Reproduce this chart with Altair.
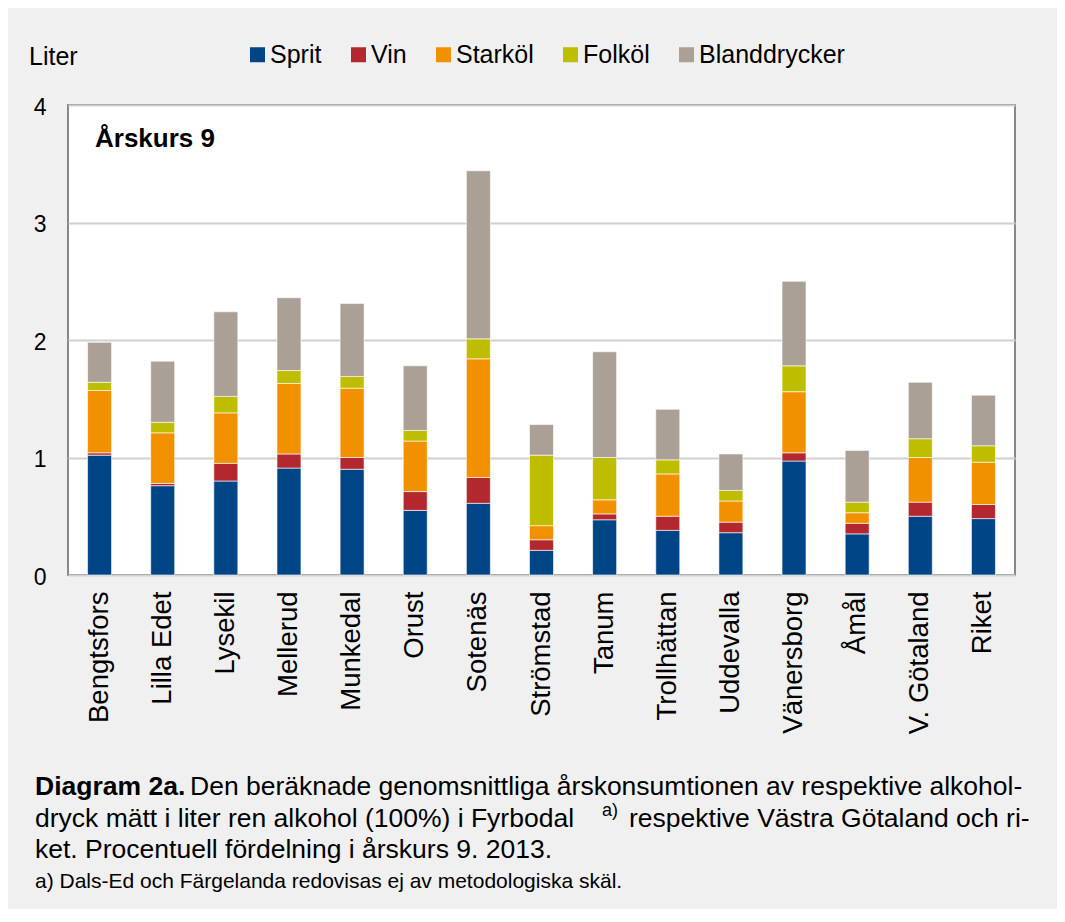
import altair as alt
import pandas as pd

kommuner = ["Bengtsfors", "Lilla Edet", "Lysekil", "Mellerud", "Munkedal", "Orust",
            "Sotenäs", "Strömstad", "Tanum", "Trollhättan", "Uddevalla", "Vänersborg",
            "Åmål", "V. Götaland", "Riket"]
dryck = ["Sprit", "Vin", "Starköl", "Folköl", "Blanddrycker"]
sprit = [1.02, 0.76, 0.80, 0.91, 0.90, 0.55, 0.61, 0.21, 0.47, 0.38, 0.36, 0.97, 0.35, 0.50, 0.48]
vin = [0.02, 0.02, 0.15, 0.12, 0.10, 0.16, 0.22, 0.09, 0.05, 0.12, 0.09, 0.07, 0.09, 0.12, 0.12]
starkol = [0.53, 0.43, 0.43, 0.60, 0.59, 0.43, 1.01, 0.12, 0.12, 0.36, 0.18, 0.52, 0.09, 0.38, 0.36]
folkol = [0.07, 0.09, 0.14, 0.11, 0.10, 0.09, 0.17, 0.60, 0.36, 0.12, 0.09, 0.22, 0.09, 0.16, 0.14]
bland = [0.34, 0.52, 0.72, 0.62, 0.62, 0.55, 1.43, 0.26, 0.90, 0.43, 0.31, 0.72, 0.44, 0.48, 0.43]
farger = ["#004586", "#b3282f", "#f29100", "#bfbd00", "#aaa095"]
y_ticks = [0, 1, 2, 3, 4]

serier = [sprit, vin, starkol, folkol, bland]
rows = []
for i, d in enumerate(dryck):
    for k, v in zip(kommuner, serier[i]):
        rows.append({"kommun": k, "dryck": d, "liter": v, "ordning": i})
df = pd.DataFrame(rows)

FONT = "Liberation Sans"

bars = alt.Chart(df).mark_bar(stroke="white", strokeWidth=0.6).encode(
    x=alt.X("kommun:N", sort=kommuner,
            scale=alt.Scale(paddingInner=0.62, paddingOuter=0.31),
            axis=alt.Axis(title=None, labelAngle=-90, labelAlign="right", labelBaseline="middle",
                          labelPadding=16, ticks=False, domain=False, labelFontSize=27.5,
                          labelColor="black", labelFont=FONT)),
    y=alt.Y("liter:Q", stack="zero",
            scale=alt.Scale(domain=[0, 4], nice=False),
            axis=alt.Axis(title=None, values=y_ticks, grid=True, gridColor="#d0d0d0", gridWidth=2,
                          ticks=False, domain=False, labelPadding=22, labelFontSize=23,
                          labelColor="black", labelFont=FONT, labelOffset=2)),
    color=alt.Color("dryck:N", sort=dryck,
                    scale=alt.Scale(domain=dryck, range=farger),
                    legend=alt.Legend(title=None, orient="none", direction="horizontal",
                                      legendX=177, legendY=-63, symbolType="square",
                                      symbolSize=225, symbolStrokeWidth=0, labelFontSize=25,
                                      labelFont=FONT, labelColor="black", labelOffset=0,
                                      columnPadding=24, padding=0, symbolOpacity=1)),
    order=alt.Order("ordning:Q", sort="ascending"),
)

def txt(text, x, y, size, bold=False, align="left"):
    return alt.Chart(pd.DataFrame({"t": [text]})).mark_text(
        font=FONT, fontSize=size, fontWeight="bold" if bold else "normal",
        align=align, baseline="alphabetic", color="black"
    ).encode(x=alt.value(x), y=alt.value(y), text="t:N")

CAP = 26.5
texts = [
    txt("Liter", -39, -40, 25),
    txt("Årskurs 9", 27, 42, 26, bold=True),
    txt("Diagram 2a.", -33, 690, CAP, bold=True),
    txt("Den beräknade genomsnittliga årskonsumtionen av respektive alkohol-", 122, 690, CAP),
    txt("dryck mätt i liter ren alkohol (100%) i Fyrbodal", -33, 722, CAP),
    txt("a)", 534, 711, 18),
    txt("respektive Västra Götaland och ri-", 561, 722, CAP),
    txt("ket. Procentuell fördelning i årskurs 9. 2013.", -33, 753, CAP),
    txt("a) Dals-Ed och Färgelanda redovisas ej av metodologiska skäl.", -33, 783, 21),
]

chart = alt.layer(bars, *texts).properties(
    width=947, height=470,
    autosize=alt.AutoSizeParams(type="none"),
    padding={"left": 60, "top": 97, "right": 42, "bottom": 334},
    background="#f0f0f0",
).configure_view(fill="white", stroke="#888888", strokeWidth=2)

chart.save("out.html", embed_options={"renderer": "svg", "actions": False})
